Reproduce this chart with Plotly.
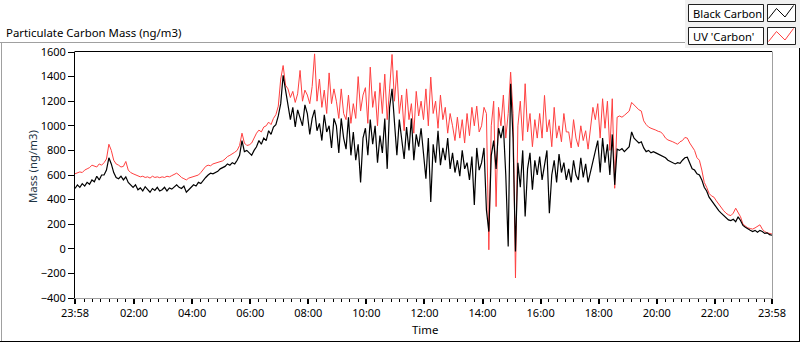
import pandas as pd
import plotly.graph_objects as go

# ---------------- data (5-minute samples) ----------------
start_time = "2020-01-01 23:58"
end_time = "2020-01-02 23:58"
step_minutes = 5

black_carbon = [
    490, 520, 500, 530, 510, 540, 525, 560, 545, 590, 560, 600,
    600, 640, 740, 690, 620, 580, 570, 590, 560, 585, 540, 520,
    500, 520, 480, 495, 470, 505, 485, 460, 490, 475, 500, 470,
    480, 500, 470, 495, 485, 505, 520, 500, 490, 510, 460, 480,
    500, 520, 510, 540, 530, 560, 580, 600, 615, 610, 620, 630,
    650, 660, 670, 690, 680, 700, 690, 720, 760, 880, 790, 800,
    780, 760, 800, 830, 880, 850, 900, 880, 960, 930, 990, 1010,
    1080, 1180, 1410, 1290, 1200, 1050, 1150, 990, 1130, 1060, 1000, 1170,
    1100, 930, 1060, 1130, 960, 1020, 880, 1090, 950, 1000, 820, 1060,
    1000, 780, 1060, 900, 810, 1070, 760, 950, 720, 850, 540, 900,
    980, 760, 1050, 850, 1000, 700, 920, 780, 1060, 650, 1150, 1300,
    1000, 760, 1050, 880, 730, 990, 800, 1060, 720, 930, 830, 980,
    760, 570, 900, 380, 850, 700, 960, 680, 820, 720, 900, 650,
    780, 620, 720, 590, 800, 650, 700, 560, 750, 356, 820, 640,
    700, 820, 316, 140, 760, 880, 650, 980, 900, 1000, 600, 19,
    1342, 900, -21, 700, 500, 800, 262, 650, 780, 480, 720, 600,
    750, 560, 680, 800, 289, 600, 720, 540, 770, 620, 700, 560,
    650, 540, 720, 600, 560, 740, 580, 690, 540, 620, 700, 800,
    880, 620, 900, 700, 850, 600, 930, 520, 810, 800, 815, 790,
    810, 830, 950, 900, 880, 860, 870, 820, 790, 800, 780, 790,
    780, 770, 760, 750, 740, 720, 710, 700, 690, 700, 695, 720,
    740, 745, 700, 650, 640, 610, 600, 560, 500, 470, 420, 390,
    360, 330, 310, 290, 270, 250, 235, 230, 240, 220, 260, 230,
    190, 175, 160, 150, 140, 150, 135, 150, 140, 125, 130, 115,
    110,
]

uv_carbon = [
    610, 615, 625, 620, 640, 650, 660, 680, 670, 665, 690, 680,
    700, 730, 850, 800, 720, 690, 680, 665, 670, 710, 640, 620,
    610, 600, 595, 585, 590, 580, 585, 575, 590, 580, 585, 578,
    585, 580, 590, 585, 595, 605, 615, 600, 580, 570, 560, 575,
    580, 585, 595, 600, 620, 650, 670, 680, 675, 690, 695, 700,
    705, 715, 730, 750, 760, 770, 785, 800, 840, 940, 860, 840,
    845, 860, 900, 940, 965, 950, 990, 1000, 1030, 1010, 1060, 1090,
    1160, 1380, 1490, 1330, 1300, 1230, 1280, 1190, 1260, 1450, 1200, 1290,
    1250, 1180, 1320, 1585, 1200, 1380, 1150, 1290, 1100, 1430, 1180, 1300,
    1200, 1060, 1300, 1100, 1050, 1250, 1020, 1180, 1060, 1400, 1120, 1250,
    1310, 1020, 1477, 1150, 1280, 1000, 1350, 1100, 1420, 1050, 1300, 1580,
    1200, 1450, 1100, 1250, 960, 1300, 1050, 1180, 940, 1280, 1080, 1200,
    1050, 1300, 1000, 1396, 1100, 1200, 980, 1250, 1050, 1150, 940, 1100,
    1000, 880, 1070, 900, 1050, 860, 1100, 920, 1150, 1000, 1160, 950,
    1000, 1150, 1100, -8, 1000, 1200, 343, 1150, 1000, 1250, 900, 1100,
    1436, 1100, -237, 1000, 1200, 880, 1342, 950, 1100, 830, 1050, 900,
    1100, 900, 1247, 950, 1050, 830, 1150, 900, 1000, 870, 1100, 950,
    950, 820, 1050, 900, 830, 1000, 880, 960, 810, 1000, 1150, 1050,
    1180, 900, 1220, 980, 1200, 800, 1220, 492, 1070, 1080, 1070, 1085,
    1100, 1120, 1190, 1170, 1150, 1130, 1120, 1040, 1010, 990, 980, 975,
    965, 955, 950, 930, 900, 885, 880, 870, 860, 850, 870, 880,
    905, 900, 860, 830, 800, 740, 720, 640, 540, 500, 450, 430,
    420, 390, 360, 340, 310, 290, 276, 270, 290, 330, 300, 260,
    200, 185, 170, 165, 160, 170, 185, 195, 160, 140, 130, 125,
    120,
]

y_tick_values = [-400, -200, 0, 200, 400, 600, 800, 1000, 1200, 1400, 1600]
x_tick_times = ["2020-01-01 23:58", "2020-01-02 02:00", "2020-01-02 04:00",
                "2020-01-02 06:00", "2020-01-02 08:00", "2020-01-02 10:00",
                "2020-01-02 12:00", "2020-01-02 14:00", "2020-01-02 16:00",
                "2020-01-02 18:00", "2020-01-02 20:00", "2020-01-02 22:00",
                "2020-01-02 23:58"]
x_tick_labels = ["23:58", "02:00", "04:00", "06:00", "08:00", "10:00", "12:00",
                 "14:00", "16:00", "18:00", "20:00", "22:00", "23:58"]

chart_title = "Particulate Carbon Mass (ng/m3)"
y_title = "Mass (ng/m3)"
x_title = "Time"
series_names = ["Black Carbon", "UV 'Carbon'"]

# ---------------- figure ----------------
times = pd.date_range(start_time, periods=len(black_carbon), freq=f"{step_minutes}min")

W, H = 800, 342
ML, MR, MT, MB = 75, 28, 52, 44
PW, PH = W - ML - MR, H - MT - MB

def px(x):
    return (x - ML) / PW

def py(y):
    return (H - MB - y) / PH

FONT = "Noto Sans"
RED = "#ff4040"

fig = go.Figure()
fig.add_trace(go.Scatter(x=times, y=uv_carbon, mode="lines", name=series_names[1],
                         line=dict(color=RED, width=1), showlegend=False))
fig.add_trace(go.Scatter(x=times, y=black_carbon, mode="lines", name=series_names[0],
                         line=dict(color="#000000", width=1.2), showlegend=False))

shapes = []

def hline(x0, x1, y, color, width=1):
    shapes.append(dict(type="line", xref="paper", yref="paper", x0=px(x0), x1=px(x1),
                       y0=py(y), y1=py(y), line=dict(color=color, width=width), layer="above"))

def vline(x, y0, y1, color, width=1):
    shapes.append(dict(type="line", xref="paper", yref="paper", x0=px(x), x1=px(x),
                       y0=py(y0), y1=py(y1), line=dict(color=color, width=width), layer="above"))

def rect(x0, y0, x1, y1, fill, line_color=None, width=1):
    shapes.append(dict(type="rect", xref="paper", yref="paper", x0=px(x0), x1=px(x1),
                       y0=py(y1), y1=py(y0), fillcolor=fill,
                       line=dict(color=line_color or fill, width=width if line_color else 0),
                       layer="above"))

# outer frame
rect(685, 0, 800, 48, "#f0f0f0")
hline(0, 685, 42.5, "#a0a0a0")
vline(1.5, 42.5, 341, "#a0a0a0")
hline(0, 800, 341.5, "#000000")
vline(799.5, 48, 342, "#000000")

# plot frame
hline(ML, 772, 51.5, "#000000")
vline(ML - 0.5, 51.5, 298.5, "#000000")
vline(772.5, 51.5, 298.5, "#a0a0a0")
hline(ML, 772.5, 298.5, "#a0a0a0")

# legend boxes
for i, col in enumerate(["#000000", RED]):
    oy = i * 23
    rect(688.5, 4.5 + oy, 763.5, 21.5 + oy, "#ffffff", "#202020")
    rect(767.5, 4.5 + oy, 795.5, 21.5 + oy, "#ffffff", "#202020")
    pts = [(768.5, 18.5 + oy), (776.5, 8.5 + oy), (785, 17 + oy), (793.5, 5.5 + oy)]
    path = "M " + " L ".join(f"{px(a):.5f},{py(b):.5f}" for a, b in pts)
    shapes.append(dict(type="path", xref="paper", yref="paper", path=path,
                       line=dict(color=col, width=1), layer="above"))

annotations = [
    dict(text=chart_title, x=px(4), y=py(32), xanchor="left", yanchor="middle",
         font=dict(size=11.4, color="#000000", family=FONT)),
    dict(text=y_title, x=px(32), y=py(167), xanchor="center", yanchor="middle",
         textangle=-90, font=dict(size=11.4, color="#1e3444", family=FONT)),
    dict(text=x_title, x=px(424.5), y=py(329), xanchor="center", yanchor="middle",
         font=dict(size=11.4, color="#000000", family=FONT)),
    dict(text=series_names[0], x=px(691), y=py(13), xanchor="left", yanchor="middle",
         font=dict(size=11.2, color="#000000", family=FONT)),
    dict(text=series_names[1], x=px(691), y=py(36), xanchor="left", yanchor="middle",
         font=dict(size=11.2, color="#000000", family=FONT)),
]
for a in annotations:
    a.update(xref="paper", yref="paper", showarrow=False)

fig.update_layout(
    width=W, height=H,
    margin=dict(l=ML, r=MR, t=MT, b=MB, pad=0),
    paper_bgcolor="#ffffff", plot_bgcolor="#ffffff",
    font=dict(family=FONT, size=11, color="#000000"),
    shapes=shapes, annotations=annotations,
    showlegend=False,
    xaxis=dict(
        range=[pd.Timestamp(start_time), pd.Timestamp(end_time)],
        tickmode="array", tickvals=[pd.Timestamp(t) for t in x_tick_times],
        ticktext=x_tick_labels,
        ticks="outside", ticklen=5, tickwidth=2, tickcolor="#000000",
        showgrid=False, zeroline=False, showline=False,
        tickfont=dict(size=11, family=FONT, color="#000000"),
        minor=dict(ticks="outside", ticklen=3, tickwidth=1, tickcolor="#000000",
                   tickmode="linear", tick0="2020-01-02 00:00", dtick=7200000 / 7,
                   showgrid=False),
        fixedrange=True,
    ),
    yaxis=dict(
        range=[-400, 1600], tickmode="array", tickvals=y_tick_values,
        ticks="outside", ticklen=6, tickwidth=1, tickcolor="#000000",
        showgrid=False, zeroline=False, showline=False,
        tickfont=dict(size=11, family=FONT, color="#000000"),
        fixedrange=True,
    ),
)

fig.write_html(
    "out.html",
    config={"displayModeBar": False},
    post_script="document.body.style.margin='0';document.body.style.padding='0';",
)
